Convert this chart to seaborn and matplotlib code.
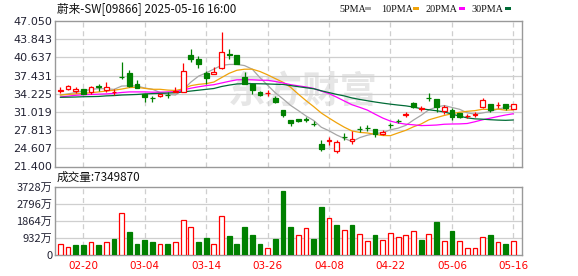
import numpy as np
import pandas as pd
import matplotlib
matplotlib.use("Agg")
import matplotlib.pyplot as plt
import seaborn as sns

# ---------------- data ----------------
dates = ["02-17", "02-18", "02-19", "02-20", "02-21", "02-24", "02-25", "02-26", "02-27", "02-28",
         "03-03", "03-04", "03-05", "03-06", "03-07", "03-10", "03-11", "03-12", "03-13", "03-14",
         "03-17", "03-18", "03-19", "03-20", "03-21", "03-24", "03-25", "03-26", "03-27", "03-28",
         "03-31", "04-01", "04-02", "04-03", "04-07", "04-08", "04-09", "04-10", "04-11", "04-14",
         "04-15", "04-16", "04-17", "04-22", "04-23", "04-24", "04-25", "04-28", "04-29", "04-30",
         "05-02", "05-06", "05-07", "05-08", "05-09", "05-12", "05-13", "05-14", "05-15", "05-16"]

open_ = [34.75, 35.0, 34.7, 35.05, 34.58, 35.55, 34.93, 34.5, 37.15, 37.87,
         35.93, 34.1, 33.55, 33.75, 34.05, 34.6, 34.58, 41.04, 40.39, 37.81,
         37.75, 38.69, 41.2, 41.04, 37.1, 35.87, 34.52, 34.35, 33.52, 31.29,
         29.59, 29.76, 29.72, 28.9, 25.36, 25.95, 24.12, 26.65, 25.83, 28.0,
         28.2, 27.94, 27.12, 28.72, 29.43, 30.55, 32.58, 31.6, 33.55, 33.29,
         31.11, 31.29, 30.76, 30.33, 30.55, 31.93, 32.4, 32.2, 32.35, 31.58]
high = [35.45, 35.7, 35.4, 35.1, 35.6, 35.93, 36.28, 35.1, 39.8, 38.4,
        36.63, 34.2, 33.87, 34.2, 34.58, 35.5, 39.68, 42.09, 40.92, 38.28,
        38.98, 45.03, 42.09, 41.1, 37.98, 35.87, 34.7, 34.8, 33.87, 31.4,
        29.6, 29.85, 30.17, 29.4, 26.0, 26.6, 26.06, 27.35, 27.65, 28.53,
        28.7, 28.0, 27.75, 29.1, 29.76, 30.94, 32.8, 32.0, 34.28, 33.3,
        32.23, 31.64, 30.9, 30.7, 30.94, 33.52, 32.5, 32.7, 32.45, 32.45]
low = [34.4, 34.9, 34.3, 34.2, 34.2, 34.75, 34.6, 34.0, 36.9, 35.4,
       35.17, 32.85, 32.82, 33.7, 33.4, 34.5, 34.5, 39.86, 38.69, 35.99,
       37.7, 38.5, 40.3, 39.4, 35.87, 34.17, 33.9, 33.87, 32.64, 30.12,
       28.53, 29.3, 29.23, 28.47, 24.12, 25.18, 23.7, 26.06, 25.42, 27.41,
       27.65, 26.53, 27.0, 28.24, 29.1, 30.12, 31.7, 31.17, 32.93, 30.94,
       30.58, 29.53, 29.95, 30.0, 30.2, 31.64, 31.0, 31.76, 31.3, 31.5]
close = [34.85, 35.6, 35.05, 34.22, 35.45, 35.4, 35.45, 34.6, 37.1, 35.58,
         35.28, 33.65, 33.5, 34.17, 34.0, 34.7, 38.22, 40.27, 39.39, 36.93,
         38.04, 41.5, 41.1, 39.45, 35.87, 34.87, 34.05, 34.4, 32.82, 30.47,
         29.12, 29.47, 29.65, 28.85, 24.53, 26.0, 25.71, 26.6, 26.18, 27.95,
         28.15, 27.12, 27.47, 28.68, 29.38, 30.6, 31.82, 31.66, 33.5, 31.82,
         31.93, 30.05, 30.08, 30.38, 30.6, 33.05, 31.41, 32.25, 31.64, 32.35]

ma5 = [34.0, 34.2, 34.45, 34.7, 35.0, 35.13, 35.09, 35.0, 35.58, 35.63,
       35.59, 35.24, 35.02, 34.44, 34.12, 34.0, 34.92, 36.27, 37.32, 37.9,
       38.57, 39.23, 39.39, 39.4, 39.19, 38.56, 37.07, 35.73, 34.4, 33.32,
       32.17, 31.26, 30.31, 29.51, 28.32, 27.7, 26.95, 26.34, 25.8, 26.49,
       26.92, 27.2, 27.37, 27.87, 28.16, 28.65, 29.59, 30.43, 31.39, 31.88,
       32.15, 31.81, 31.49, 30.86, 30.62, 30.84, 31.1, 31.54, 31.79, 32.14]
ma10 = [34.0, 34.1, 34.2, 34.3, 34.4, 34.55, 34.7, 34.85, 35.05, 35.31,
        35.36, 35.17, 35.01, 35.01, 34.87, 34.8, 35.08, 35.65, 35.88, 36.01,
        36.29, 37.07, 37.83, 38.36, 38.55, 38.56, 38.15, 37.56, 36.9, 36.26,
        35.37, 34.16, 33.02, 31.96, 30.82, 29.94, 29.1, 28.32, 27.66, 27.41,
        27.31, 27.07, 26.86, 26.84, 27.32, 27.78, 28.4, 28.9, 29.63, 30.02,
        30.4, 30.7, 30.96, 31.13, 31.25, 31.49, 31.45, 31.51, 31.33, 31.38]
ma20 = [33.65, 33.8, 33.95, 34.05, 34.1, 34.15, 34.2, 34.3, 34.45, 34.55,
        34.55, 34.55, 34.5, 34.5, 34.55, 34.6, 34.9, 35.2, 35.45, 35.66,
        35.82, 36.12, 36.42, 36.68, 36.71, 36.68, 36.61, 36.6, 36.39, 36.13,
        35.83, 35.62, 35.42, 35.16, 34.69, 34.25, 33.62, 32.94, 32.28, 31.83,
        31.34, 30.62, 29.94, 29.4, 29.07, 28.86, 28.75, 28.61, 28.65, 28.71,
        28.85, 28.89, 28.91, 28.98, 29.29, 29.64, 29.92, 30.21, 30.48, 30.7]
ma30 = [33.6, 33.62, 33.65, 33.7, 33.72, 33.75, 33.85, 33.9, 34.0, 34.05,
        34.1, 34.2, 34.25, 34.3, 34.35, 34.4, 34.55, 34.7, 34.85, 35.0,
        35.15, 35.5, 35.75, 35.95, 36.0, 36.0, 35.98, 35.95, 35.9, 35.86,
        35.67, 35.47, 35.29, 35.11, 34.75, 34.43, 34.11, 33.84, 33.48, 33.22,
        32.99, 32.77, 32.57, 32.39, 32.23, 32.09, 31.88, 31.59, 31.4, 31.23,
        31.02, 30.64, 30.28, 29.97, 29.8, 29.74, 29.65, 29.58, 29.54, 29.6]

volume_wan = [577, 453, 524, 524, 684, 524, 684, 861, 2263, 1269,
              577, 790, 684, 613, 577, 684, 1890, 1518, 684, 950,
              613, 2103, 1056, 577, 1535, 1110, 577, 364, 861, 3506,
              1535, 1092, 1464, 897, 2600, 1997, 1642, 1376, 1624, 1145,
              737, 1110, 843, 1216, 985, 1092, 1323, 790, 1145, 1802,
              737, 1323, 737, 364, 400, 985, 1110, 684, 577, 735]

tick_dates = ["02-20", "03-04", "03-14", "03-26", "04-08", "04-22", "05-06", "05-16"]
price_ticks = [21.400, 24.607, 27.813, 31.019, 34.225, 37.431, 40.637, 43.843, 47.050]
vol_ticks = [0, 932, 1864, 2796, 3728]
vol_tick_labels = ["0", "932万", "1864万", "2796万", "3728万"]
ma_names = ["5PMA", "10PMA", "20PMA", "30PMA"]
ma_colors = ["#a6a6a6", "#f0a30a", "#ff00ff", "#006b36"]
title = "蔚来-SW[09866] 2025-05-16 16:00"
vol_text = "成交量:7349870"

# ---------------- styling ----------------
sns.set_theme(style="white")
CJK = ["Noto Sans CJK SC", "DejaVu Sans"]
plt.rcParams["font.family"] = CJK
RED = "#ff0000"
GREEN = "#008000"
GRID = "#cfcfcf"
SPINE = "#999999"
LBL = "#222233"

W, H = 578, 276
fig = plt.figure(figsize=(W / 100, H / 100), dpi=100)
left, right = 55, 522.3
ax = fig.add_axes([left / W, 1 - 166.5 / H, (right - left) / W, (166.5 - 21) / H])
axv = fig.add_axes([left / W, 1 - 255 / H, (right - left) / W, (255 - 186.5) / H])

n = len(dates)
x = np.arange(n)
o = np.array(open_); c = np.array(close); hi = np.array(high); lo = np.array(low)
up = c >= o
cols = np.where(up, RED, GREEN)

# watermark
ax.text(0.53, 0.51, "东方财富", transform=ax.transAxes, ha="center", va="center",
        fontsize=27, fontweight="bold", color="#e6e6e6", zorder=0.5, family=CJK)

# moving averages via seaborn
df_ma = pd.DataFrame({"idx": np.tile(x, 4),
                      "value": np.concatenate([ma5, ma10, ma20, ma30]),
                      "ma": np.repeat(ma_names, n)})
sns.lineplot(data=df_ma, x="idx", y="value", hue="ma", palette=dict(zip(ma_names, ma_colors)),
             linewidth=0.9, legend=False, ax=ax, zorder=2)

# candles
ax.vlines(x, lo, hi, colors=cols, linewidth=0.9, zorder=3)
body_bottom = np.minimum(o, c)
body_h = np.maximum(np.abs(c - o), 0.03)
ax.bar(x, body_h, bottom=body_bottom, width=0.62,
       color=np.where(up, "white", GREEN), edgecolor=cols, linewidth=0.9, zorder=4)

# volume (colour by close vs previous close)
vup = np.concatenate([[True], c[1:] >= c[:-1]])
vcols = np.where(vup, RED, GREEN)
axv.bar(x, volume_wan, width=0.62, color=np.where(vup, "white", GREEN),
        edgecolor=vcols, linewidth=0.9, zorder=3)

tick_idx = [dates.index(d) for d in tick_dates]
for a in (ax, axv):
    a.set_xlim(-0.685, 60.17)
    a.set_xticks(tick_idx)
    a.grid(False)
    for t in tick_idx:
        a.axvline(t, color=GRID, linestyle=(0, (4, 3)), linewidth=0.9, zorder=1)
    for s in a.spines.values():
        s.set_color(SPINE)
        s.set_linewidth(1.0)
    a.tick_params(length=0, pad=2)
    a.set_xlabel("")
    a.set_ylabel("")

ax.set_ylim(price_ticks[0], price_ticks[-1])
ax.set_yticks(price_ticks)
ax.set_yticklabels([f"{v:.3f}" for v in price_ticks], fontsize=8, color=LBL, family="DejaVu Sans")
for v in price_ticks[1:-1]:
    ax.axhline(v, color=GRID, linewidth=0.9, zorder=1)
ax.set_xticklabels([])

axv.set_ylim(0, vol_ticks[-1])
axv.set_yticks(vol_ticks)
axv.set_yticklabels(vol_tick_labels, fontsize=8, color=LBL)
for v in vol_ticks[1:-1]:
    axv.axhline(v, color=GRID, linewidth=0.9, zorder=1)
axv.set_xticklabels(tick_dates, fontsize=7.5, color=RED, family="DejaVu Sans")
axv.tick_params(axis="x", pad=4)

# texts
fig.text(57 / W, 1 - 9 / H, title, fontsize=8.4, color="#111111", va="center", ha="left", family=CJK)
fig.text(57 / W, 1 - 177.5 / H, vol_text, fontsize=8.4, color="#111111", va="center", ha="left", family=CJK)

leg_x = [339, 380.7, 425.7, 471.7]
sq_x = [365.3, 413.3, 459.3, 505]
for name, colr, tx, sx in zip(ma_names, ma_colors, leg_x, sq_x):
    fig.text(tx / W, 1 - 9 / H, name, fontsize=7.3, color="#111111", va="center", ha="left",
             family="Liberation Serif")
    fig.patches.append(plt.Rectangle((sx / W, 1 - 10.3 / H), 5.7 / W, 3.2 / H,
                                     transform=fig.transFigure, facecolor=colr,
                                     edgecolor="none", figure=fig))

fig.savefig("out.png", dpi=100)
